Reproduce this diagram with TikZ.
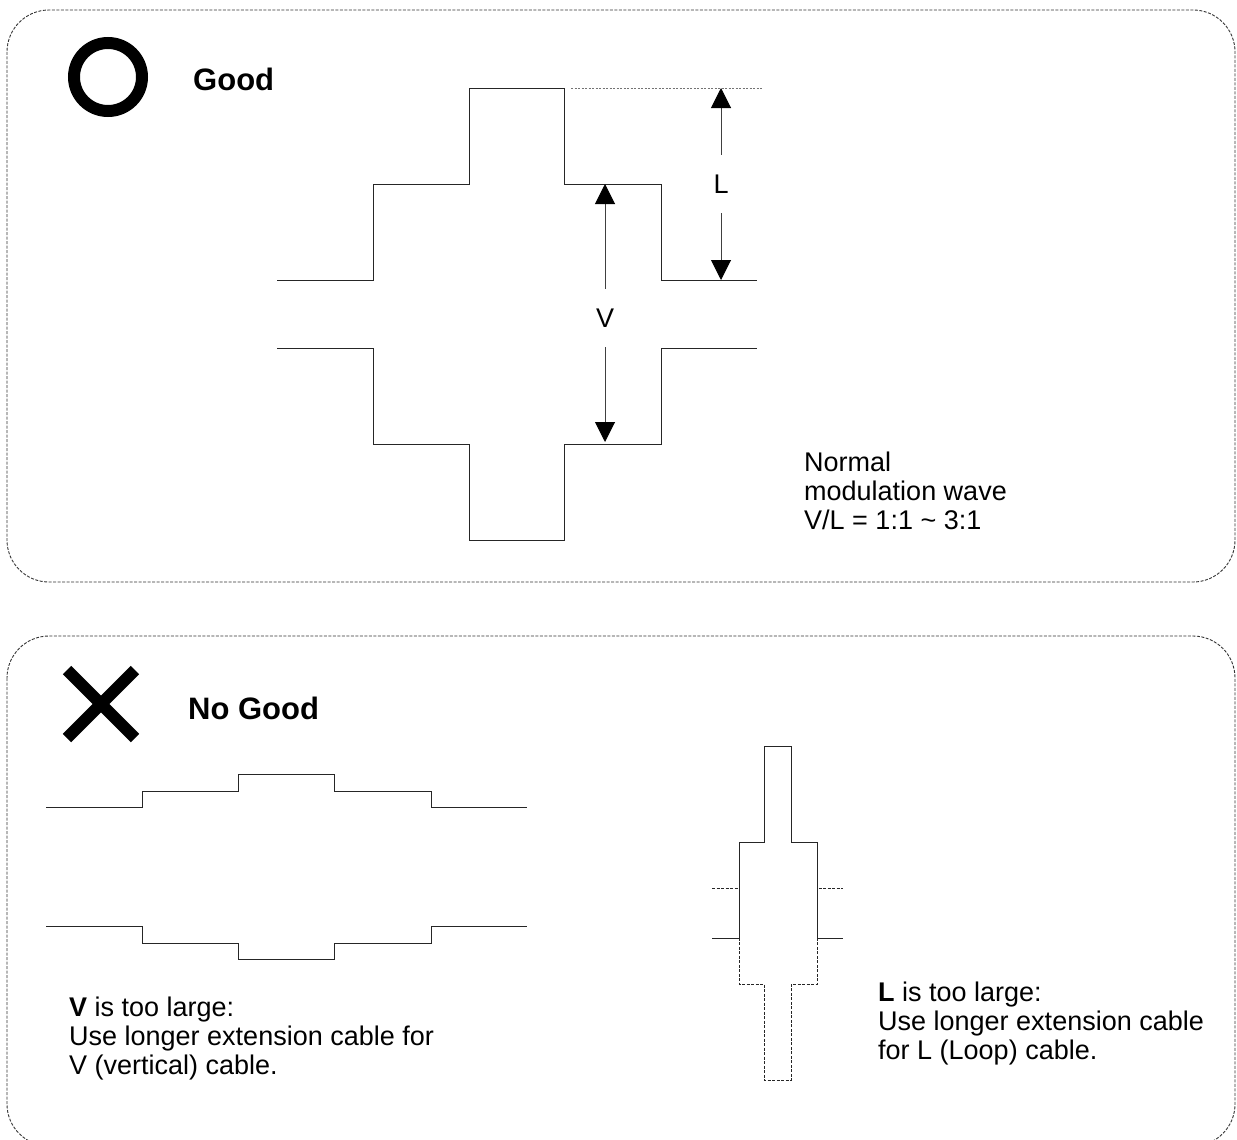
\documentclass[tikz,border=0pt]{standalone}
\usepackage{fontspec}
\setmainfont{Liberation Sans}
\usetikzlibrary{arrows.meta,positioning}

\begin{document}
\begin{tikzpicture}[x=1pt,y=-1pt,
        panel/.style={draw=black!80,line width=0.9pt,dash pattern=on 3pt off 1.5pt,
                      rounded corners=42pt},
        wave/.style={line width=1pt,black!85},
        ghost/.style={wave,dash pattern=on 3pt off 1.5pt},
        guide/.style={line width=1pt,black!55,dash pattern=on 2pt off 1.5pt},
        dim/.style={line width=1pt,black!75,
                    -{Triangle[width=20pt,length=20pt,color=black]}},
        dimlab/.style={font=\fontsize{27}{28.7}\selectfont,minimum height=58pt,inner sep=0pt},
        head/.style={font=\bfseries\fontsize{31}{36}\selectfont,inner sep=0pt,anchor=base west},
        note/.style={font=\fontsize{27}{28.7}\selectfont,align=left,inner sep=0pt,
                     anchor=north west}]
      \useasboundingbox (0,0) rectangle (1237,1140);
      \draw[panel] (7,10) rectangle (1235,582);
      \draw[panel] (7,636) rectangle (1235,1146);
      \draw[line width=12pt] (108,77) circle[radius=34];
      \draw[line width=12pt] (67,670) -- (135,738) (67,738) -- (135,670);
      \node[head] (good) at (193,90) {Good};
      \node[head] (nogood) at (188,719) {No Good};
      \draw[wave] (277,280) -- (373,280) -- (373,184) -- (469,184) -- (469,88) -- (564,88)
                  -- (564,184) -- (661,184) -- (661,280) -- (757,280);
      \draw[wave] (277,348) -- (373,348) -- (373,444) -- (469,444) -- (469,540) -- (564,540)
                  -- (564,444) -- (661,444) -- (661,348) -- (757,348);
      \draw[guide] (571,88) -- (762,88);
      \coordinate (Ltop) at (721,88);
      \coordinate (Lbot) at (721,280);
      \coordinate (Vtop) at (605,184);
      \coordinate (Vbot) at (605,442);
      \node[dimlab] (Llab) at (721,184) {L};
      \node[dimlab] (Vlab) at (605,318) {V};
      \draw[dim] (Llab) -- (Ltop);
      \draw[dim] (Llab) -- (Lbot);
      \draw[dim] (Vlab) -- (Vtop);
      \draw[dim] (Vlab) -- (Vbot);
      \node[note] (normal) at (804,452) {Normal\\modulation wave\\V/L = 1:1 \textasciitilde{} 3:1};
      \draw[wave] (46,807) -- (142,807) -- (142,791) -- (238,791) -- (238,774) -- (334,774)
                  -- (334,791) -- (431,791) -- (431,807) -- (527,807);
      \draw[wave] (46,926) -- (142,926) -- (142,943) -- (238,943) -- (238,959) -- (334,959)
                  -- (334,943) -- (431,943) -- (431,926) -- (527,926);
      \draw[wave] (712,938) -- (739,938) -- (739,842) -- (764,842) -- (764,746) -- (791,746)
                  -- (791,842) -- (817,842) -- (817,938) -- (843,938);
      \draw[ghost] (712,888) -- (739,888) -- (739,984) -- (764,984) -- (764,1080) -- (791,1080)
                  -- (791,984) -- (817,984) -- (817,888) -- (843,888);
      \node[note] (vlarge) at (69,997) {\textbf{V} is too large:\\Use longer extension cable for\\V (vertical) cable.};
      \node[note] (llarge) at (878,982) {\textbf{L} is too large:\\Use longer extension cable\\for L (Loop) cable.};
    \end{tikzpicture}
\end{document}
